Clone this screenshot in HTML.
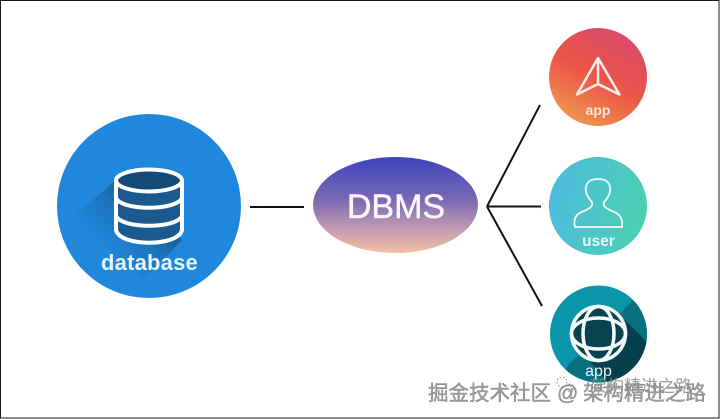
<!DOCTYPE html>
<html>
<head>
<meta charset="utf-8">
<style>
html,body{margin:0;padding:0;background:#fff;}
svg{display:block;}
text{font-family:"Liberation Sans","Noto Sans CJK SC",sans-serif;}
</style>
</head>
<body>
<svg width="720" height="419" viewBox="0 0 720 419" xmlns="http://www.w3.org/2000/svg">
<defs>
<linearGradient id="ell" x1="0" y1="0" x2="0" y2="1">
<stop offset="0" stop-color="#3d44c0"/>
<stop offset="0.45" stop-color="#7b6ab4"/>
<stop offset="0.75" stop-color="#c39ab0"/>
<stop offset="1" stop-color="#f4c0a2"/>
</linearGradient>
<linearGradient id="red" x1="0.8" y1="0.05" x2="0.3" y2="1">
<stop offset="0" stop-color="#d84a6c"/>
<stop offset="0.5" stop-color="#ec5448"/>
<stop offset="1" stop-color="#f0964e"/>
</linearGradient>
<linearGradient id="teal" x1="0" y1="0.35" x2="1" y2="0.6">
<stop offset="0" stop-color="#4dbbdd"/>
<stop offset="1" stop-color="#4bd0b0"/>
</linearGradient>
<linearGradient id="shadow" gradientUnits="userSpaceOnUse" x1="150" y1="205" x2="88" y2="266">
<stop offset="0" stop-color="#15507f" stop-opacity="0.8"/>
<stop offset="1" stop-color="#1f88dc" stop-opacity="0"/>
</linearGradient>
<clipPath id="c3"><circle cx="598.500" cy="334" r="48.500"/></clipPath>
</defs>

<rect width="720" height="419" fill="#fff"/>
<rect x="0.500" y="0.500" width="718.500" height="417.500" fill="none" stroke="#1a1a1a" stroke-width="1"/>

<!-- database -->
<circle cx="149" cy="206" r="92" fill="#1f88dc"/>
<path d="M116 180 L73 217 L143 280 L182 240 Z" fill="url(#shadow)"/>
<path d="M116 180 L116 230 C120 247 178 247 182 230 L182 180 Z" fill="#1a5a8e"/>
<ellipse cx="149" cy="180.500" rx="33" ry="11" fill="#134a78" stroke="#fff" stroke-width="4"/>
<path d="M116 180 L116 230 C120 247 178 247 182 230 L182 180" fill="none" stroke="#fff" stroke-width="4"/>
<path d="M116 198 C122 211 176 211 182 198 M116 216 C122 229 176 229 182 216" fill="none" stroke="#fff" stroke-width="4"/>
<text x="149.500" y="270" text-anchor="middle" font-size="22" font-weight="bold" fill="#e6f4fc" letter-spacing="0.200">database</text>

<!-- connectors -->
<g stroke="#111" stroke-width="2" fill="none">
<line x1="250" y1="207" x2="304" y2="207"/>
<line x1="487" y1="206.500" x2="540" y2="105"/>
<line x1="487" y1="206.500" x2="541" y2="206.500"/>
<line x1="487" y1="206.500" x2="542" y2="306"/>
</g>

<!-- DBMS -->
<ellipse cx="395.500" cy="205" rx="82.500" ry="48" fill="url(#ell)"/>
<text x="396" y="218" text-anchor="middle" font-size="34" fill="#fbf6fb" stroke="#fbf6fb" stroke-width="0.500">DBMS</text>

<!-- app red -->
<circle cx="598" cy="77" r="49" fill="url(#red)"/>
<path d="M598 58 L577 94.500 L598 84 L619.500 94.500 Z M598 58 L598 84" fill="none" stroke="#fbeee8" stroke-width="2.500" stroke-linejoin="round"/>
<text x="598" y="115" text-anchor="middle" font-size="14" font-weight="bold" fill="#fbe6d8">app</text>

<!-- user -->
<circle cx="598" cy="206" r="49" fill="url(#teal)"/>
<path d="M575 227 L622 227 C623 218 620 214 612 211 C605 208 603 206 604 202 C609 197 611 191 610 187 C609 181 604 179 598 179 C592 179 587 181 586 187 C585 191 587 197 592 202 C593 206 591 208 584 211 C576 214 573 218 575 227 Z" fill="none" stroke="#effafa" stroke-width="1.800"/>
<text x="598.500" y="246" text-anchor="middle" font-size="15.500" font-weight="bold" fill="#e8f8f8">user</text>

<!-- globe -->
<circle cx="598.500" cy="334" r="48.500" fill="#0a95a8"/>
<path d="M633 300 L670 337 L670 400 L550 400 L568 365 L600 335 Z" fill="#0a6f80" clip-path="url(#c3)"/>
<path d="M620 315 L665 360 L625 400 L603 377 L587 358 Z" fill="#063f4e" clip-path="url(#c3)"/>
<circle cx="598.500" cy="333.500" r="27" fill="#07424f" stroke="#f4fbfb" stroke-width="3.500"/>
<ellipse cx="598.500" cy="333.500" rx="15.500" ry="27" fill="none" stroke="#f4fbfb" stroke-width="3.500"/>
<ellipse cx="598.500" cy="333.500" rx="27" ry="15.500" fill="none" stroke="#f4fbfb" stroke-width="3.500"/>
<text x="598.500" y="376" text-anchor="middle" font-size="16" fill="#e8f6f8">app</text>

<!-- watermark -->
<text x="590" y="392" font-size="17" fill="#888" opacity="0.800">架构精进之路</text>
<g fill="none" stroke="#888" stroke-width="1" stroke-dasharray="1.500 2">
<circle cx="562" cy="382" r="5"/>
<circle cx="570" cy="388" r="4"/>
</g>
<g fill="#a0a0a0" stroke="#666" stroke-width="0.300" font-size="20.500">
<text x="428" y="400">掘金技术社区</text>
<text x="557" y="400" font-size="21">@</text>
<text x="583" y="400">架构精进之路</text>
</g>
</svg>
</body>
</html>
